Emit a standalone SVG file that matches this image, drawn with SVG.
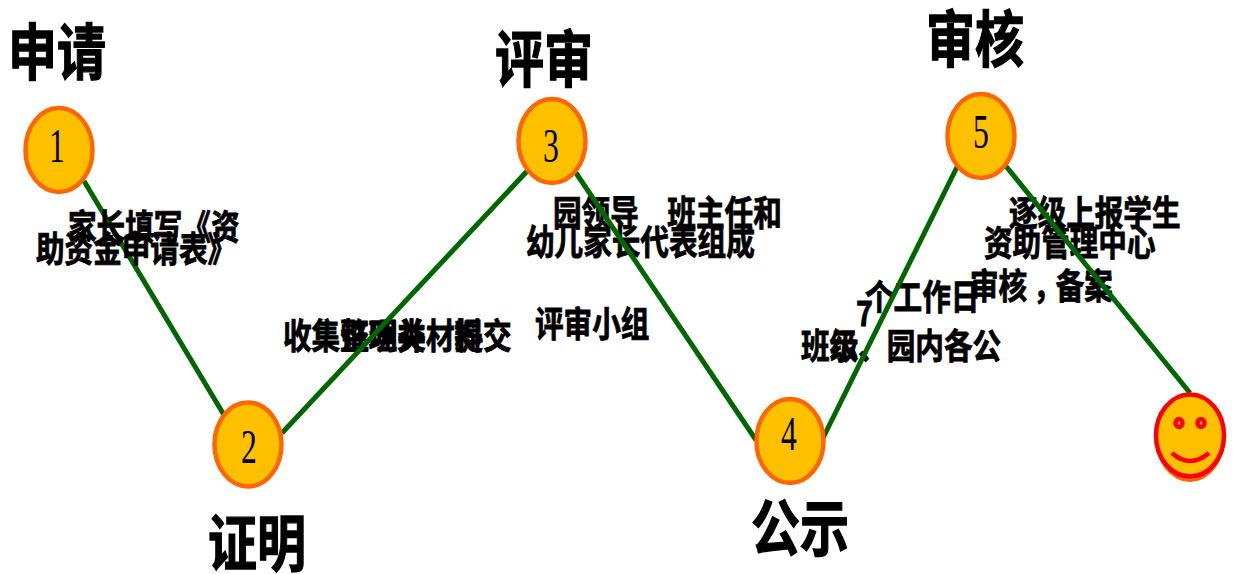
<svg xmlns="http://www.w3.org/2000/svg" width="1240" height="574" viewBox="0 0 1240 574">
<style>
.n{fill:#FFC000;stroke:#FF6600;stroke-width:4.5}
.c{fill:none;stroke:#006600;stroke-width:5}
.d{font-family:"Liberation Serif","Noto Serif",serif;font-size:44px;fill:#000;text-anchor:middle}
.h{font-family:"Noto Sans CJK SC","Noto Sans",sans-serif;font-size:49px;font-weight:700;fill:#000;stroke:#000;stroke-width:1}
.t{font-family:"Noto Sans CJK SC","Noto Sans",sans-serif;font-size:28.6px;font-weight:700;fill:#000;stroke:#000;stroke-width:.7}
.r{fill:none;stroke:#FF0000;stroke-width:4.5}
</style>
<g id="connector-1"><line class="c" x1="84" y1="181" x2="224" y2="415"/></g>
<g id="label-1">
<text class="t" transform="translate(68,240) scale(1,1.22)">家长填写《资</text>
<text class="t" transform="translate(36,262) scale(1,1.22)">助资金申请表》</text>
</g>
<g id="label-2">
<text class="t" transform="translate(283,349) scale(1,1.22)">收集证明类材料</text>
<text class="t" transform="translate(340,349) scale(1,1.22)">整理并　提交</text>
</g>
<g id="label-3">
<text class="t" transform="translate(553,226) scale(1,1.22)">园领导　班主任和</text>
<text class="t" transform="translate(526,255) scale(1,1.22)">幼儿家长代表组成</text>
<text class="t" transform="translate(535,337) scale(1,1.22)">评审小组</text>
</g>
<g id="label-4">
<text class="t" transform="translate(856,326) scale(1,1.22)">7</text>
<text class="t" transform="translate(865,310) scale(1,1.22)">个工作日</text>
<text class="t" transform="translate(801,359) scale(1,1.22)">班级、园内各公</text>
<text class="t" transform="translate(830,359) scale(1,1.22)">示</text>
</g>
<g id="label-5">
<text class="t" transform="translate(1009,226) scale(1,1.22)">逐级上报学生</text>
<text class="t" transform="translate(984,256) scale(1,1.22)">资助管理中心</text>
<text class="t" transform="translate(970,299) scale(1,1.22)">审核<tspan dx="6">，</tspan><tspan dx="-6">备案</tspan></text>
</g>
<g id="connectors">
<line class="c" x1="282" y1="433" x2="530" y2="168"/>
<line class="c" x1="574" y1="170" x2="756" y2="440"/>
<line class="c" x1="822" y1="440" x2="958" y2="165"/>
<line class="c" x1="1005" y1="165" x2="1190" y2="393"/>
</g>
<g id="node-1"><ellipse class="n" cx="59" cy="150" rx="33.5" ry="42"/><text class="d" transform="translate(57,162) scale(.72,1.1)">1</text><text class="h" transform="translate(8,75) scale(1,1.25)">申请</text></g>
<g id="node-2"><ellipse class="n" cx="248" cy="444.5" rx="33.5" ry="42"/><text class="d" transform="translate(249,463) scale(.72,1.1)">2</text><text class="h" transform="translate(208,566) scale(1,1.25)">证明</text></g>
<g id="node-3"><ellipse class="n" cx="552" cy="141" rx="33.5" ry="42"/><text class="d" transform="translate(551,162) scale(.72,1.1)">3</text><text class="h" transform="translate(495,82) scale(1,1.25)">评审</text></g>
<g id="node-4"><ellipse class="n" cx="790" cy="441" rx="33.5" ry="42"/><text class="d" transform="translate(789,450) scale(.72,1.1)">4</text><text class="h" transform="translate(751,551) scale(1,1.25)">公示</text></g>
<g id="node-5"><ellipse class="n" cx="981" cy="136" rx="33.5" ry="42"/><text class="d" transform="translate(981,148) scale(.72,1.1)">5</text><text class="h" transform="translate(926,62) scale(1,1.25)">审核</text></g>
<g id="node-6">
<ellipse cx="1190" cy="438" rx="35" ry="44" fill="#FF6600"/>
<ellipse cx="1190" cy="435.5" rx="34" ry="41" fill="#FFC000" stroke="#FF0000" stroke-width="4.5"/>
<ellipse class="r" cx="1179" cy="423" rx="3.5" ry="4"/>
<ellipse class="r" cx="1201" cy="423" rx="3.5" ry="4"/>
<path class="r" d="M1172 453Q1190 469 1209 453"/>
</g>
</svg>
